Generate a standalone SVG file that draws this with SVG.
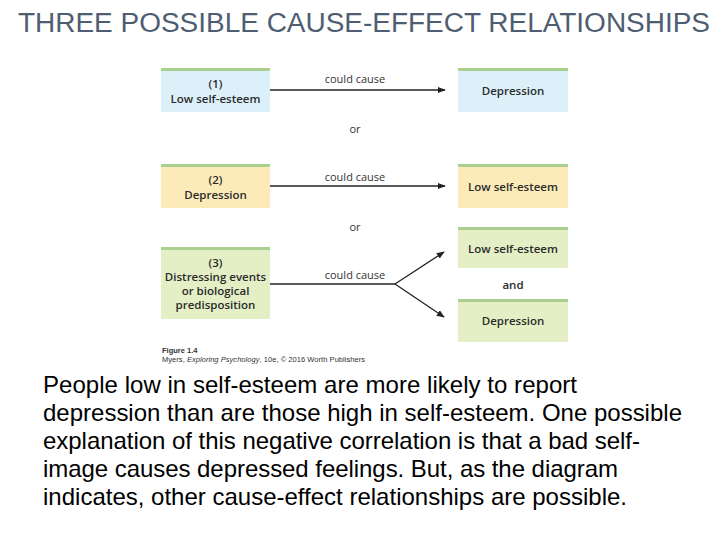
<svg xmlns="http://www.w3.org/2000/svg" width="720" height="540" viewBox="0 0 720 540">
<defs>
<style>
.title{font-family:"Liberation Sans",Arial,sans-serif;font-size:27px;fill:#4e5d72}
.para{font-family:"Liberation Sans",Arial,sans-serif;font-size:24px;fill:#000}
.lbl{font-family:"Open Sans","Noto Sans",sans-serif;font-size:11.5px;fill:#2b2b2b;text-anchor:middle;font-weight:600}
.conn{font-family:"Open Sans","Noto Sans",sans-serif;font-size:11px;fill:#333;text-anchor:middle}
.cap{font-family:"Liberation Sans",Arial,sans-serif;font-size:7.5px;fill:#333}
.blue{fill:#dcf0fa}
.yellow{fill:#fcebb9}
.green{fill:#e4efc6}
.strip{fill:#a9d08e}
.line{stroke:#222;stroke-width:1.3;fill:none}
</style>
<marker id="ah" viewBox="0 0 10 10" refX="9" refY="5" markerWidth="8" markerHeight="8" markerUnits="userSpaceOnUse" orient="auto">
<path d="M0,1 L10,5 L0,9 Z" fill="#222"/>
</marker>
</defs>
<rect width="720" height="540" fill="#fff"/>
<text class="title" x="18" y="32" textLength="692" lengthAdjust="spacingAndGlyphs">THREE POSSIBLE CAUSE-EFFECT RELATIONSHIPS</text>

<g id="n1a"><rect class="blue" x="161" y="68" width="109" height="44"/><rect class="strip" x="161" y="68" width="109" height="3"/>
<text class="lbl" x="215.5" y="88">(1)</text><text class="lbl" x="215.5" y="103">Low self-esteem</text></g>
<g id="n1b"><rect class="blue" x="458" y="68" width="110" height="44"/><rect class="strip" x="458" y="68" width="110" height="3"/>
<text class="lbl" x="513" y="95">Depression</text></g>
<g id="n2a"><rect class="yellow" x="161" y="164" width="109" height="44"/><rect class="strip" x="161" y="164" width="109" height="3"/>
<text class="lbl" x="215.5" y="184">(2)</text><text class="lbl" x="215.5" y="199">Depression</text></g>
<g id="n2b"><rect class="yellow" x="458" y="164" width="110" height="44"/><rect class="strip" x="458" y="164" width="110" height="3"/>
<text class="lbl" x="513" y="191">Low self-esteem</text></g>
<g id="n3a"><rect class="green" x="161" y="247" width="109" height="72"/><rect class="strip" x="161" y="247" width="109" height="3"/>
<text class="lbl" x="215.5" y="267">(3)</text><text class="lbl" x="215.5" y="281">Distressing events</text><text class="lbl" x="215.5" y="295">or biological</text><text class="lbl" x="215.5" y="309">predisposition</text></g>
<g id="n3b"><rect class="green" x="458" y="227" width="110" height="41"/><rect class="strip" x="458" y="227" width="110" height="3"/>
<text class="lbl" x="513" y="253">Low self-esteem</text></g>
<g id="n3c"><rect class="green" x="458" y="299" width="110" height="43"/><rect class="strip" x="458" y="299" width="110" height="3"/>
<text class="lbl" x="513" y="325">Depression</text></g>
<text class="lbl" x="513" y="289">and</text>

<g id="connectors">
<line class="line" x1="270" y1="90" x2="445" y2="90" marker-end="url(#ah)"/>
<line class="line" x1="270" y1="186" x2="445" y2="186" marker-end="url(#ah)"/>
<polyline class="line" points="270,284 395,284"/>
<line class="line" x1="395" y1="284" x2="444" y2="252" marker-end="url(#ah)"/>
<line class="line" x1="395" y1="284" x2="444" y2="317" marker-end="url(#ah)"/>
<text class="conn" x="355" y="83">could cause</text>
<text class="conn" x="355" y="181">could cause</text>
<text class="conn" x="355" y="279">could cause</text>
</g>
<text class="conn" x="355" y="133">or</text>
<text class="conn" x="355" y="231">or</text>

<text class="cap" x="162" y="353" font-weight="bold">Figure 1.4</text>
<text class="cap" x="162" y="362" textLength="203">Myers, <tspan font-style="italic">Exploring Psychology</tspan>, 10e, © 2016 Worth Publishers</text>

<text class="para" x="43" y="393" textLength="534">People low in self-esteem are more likely to report</text>
<text class="para" x="43" y="421" textLength="639">depression than are those high in self-esteem. One possible</text>
<text class="para" x="43" y="449" textLength="597">explanation of this negative correlation is that a bad self-</text>
<text class="para" x="43" y="477" textLength="575">image causes depressed feelings. But, as the diagram</text>
<text class="para" x="43" y="505" textLength="584">indicates, other cause-effect relationships are possible.</text>
</svg>
